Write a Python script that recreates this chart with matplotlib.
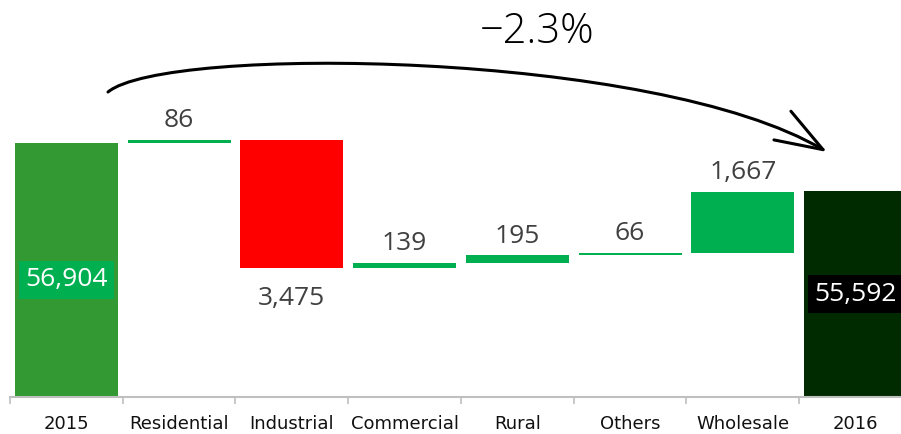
import numpy as np
import matplotlib
matplotlib.use('Agg')
import matplotlib.pyplot as plt
from matplotlib.path import Path
from matplotlib.patches import FancyArrowPatch
from matplotlib.transforms import IdentityTransform

# Data
categories = ['2015', 'Residential', 'Industrial', 'Commercial', 'Rural', 'Others', 'Wholesale', '2016']
start_total = 56904
changes = [86, -3475, 139, 195, 66, 1667]
end_total = 55592
baseline = 50000
change_pct = '\u22122.3%'

# Colours
c_start = '#339933'
c_up = '#00B050'
c_down = '#FF0000'
c_end = '#002A00'
c_label = '#404040'

W, H = 901, 434
fig = plt.figure(figsize=(W / 100, H / 100), dpi=100)
# axes runs a little past the right edge like the original
ax = fig.add_axes([10 / W, 37 / H, 902 / W, 397 / H])
ax.set_xlim(-0.5, len(categories) - 0.5)
ax.set_ylim(baseline, baseline + 397 * 27.2)

bar_w = 0.915
num_font = 'Open Sans'

# start total
ax.bar(0, start_total - baseline, bottom=baseline, width=bar_w, color=c_start)
ax.annotate(f'{start_total:,}', (0, (start_total + baseline) / 2), xytext=(0, -7),
            textcoords='offset points', ha='center', va='center',
            color='white', fontsize=19, family=num_font,
            bbox=dict(boxstyle='square,pad=0.25', fc=c_up, ec='none'))

# changes
running = start_total
for i, ch in enumerate(changes, start=1):
    lo = running if ch > 0 else running + ch
    ax.bar(i, abs(ch), bottom=lo, width=bar_w, color=c_up if ch > 0 else c_down)
    if ch > 0:
        ax.annotate(f'{abs(ch):,}', (i, lo + abs(ch)), xytext=(0, 5), textcoords='offset points',
                    ha='center', va='bottom', fontsize=19, family=num_font, color=c_label)
    else:
        ax.annotate(f'{abs(ch):,}', (i, lo), xytext=(0, -13), textcoords='offset points',
                    ha='center', va='top', fontsize=19, family=num_font, color=c_label)
    running += ch

# end total
n = len(categories) - 1
ax.bar(n, end_total - baseline, bottom=baseline, width=bar_w, color=c_end)
ax.text(n, (end_total + baseline) / 2, f'{end_total:,}', ha='center', va='center',
        color='white', fontsize=19, family=num_font,
        bbox=dict(boxstyle='square,pad=0.25', fc='black', ec='none'))

# axis styling
for s in ['top', 'right', 'left']:
    ax.spines[s].set_visible(False)
ax.spines['bottom'].set_color('#BFBFBF')
ax.spines['bottom'].set_linewidth(1.5)
ax.set_yticks([])
ax.set_xticks(np.arange(-0.5, len(categories), 1.0))
ax.set_xticklabels([])
ax.tick_params(axis='x', which='major', length=5, width=1.2, color='#BFBFBF')
ax.set_xticks(np.arange(len(categories)), minor=True)
ax.set_xticklabels(categories, minor=True, fontsize=13, family='DejaVu Sans', color='#111111')
ax.tick_params(axis='x', which='minor', length=0, pad=13)

# curved arrow across the top (figure pixels, y up)
def px(x, y):
    return (x, H - y)

verts = [px(108, 92), px(165, 45), px(655, 50), px(827, 152)]
path = Path(verts, [Path.MOVETO, Path.CURVE4, Path.CURVE4, Path.CURVE4])
arrow = FancyArrowPatch(path=path, arrowstyle='->,head_length=1.7,head_width=0.6',
                        mutation_scale=20, lw=2.2, color='black',
                        transform=IdentityTransform())
fig.add_artist(arrow)

fig.text(537 / W, 1 - 32 / H, change_pct, ha='center', va='center',
         fontsize=30, family=num_font, fontweight='light', color='black')

fig.savefig('out.png', dpi=100)
